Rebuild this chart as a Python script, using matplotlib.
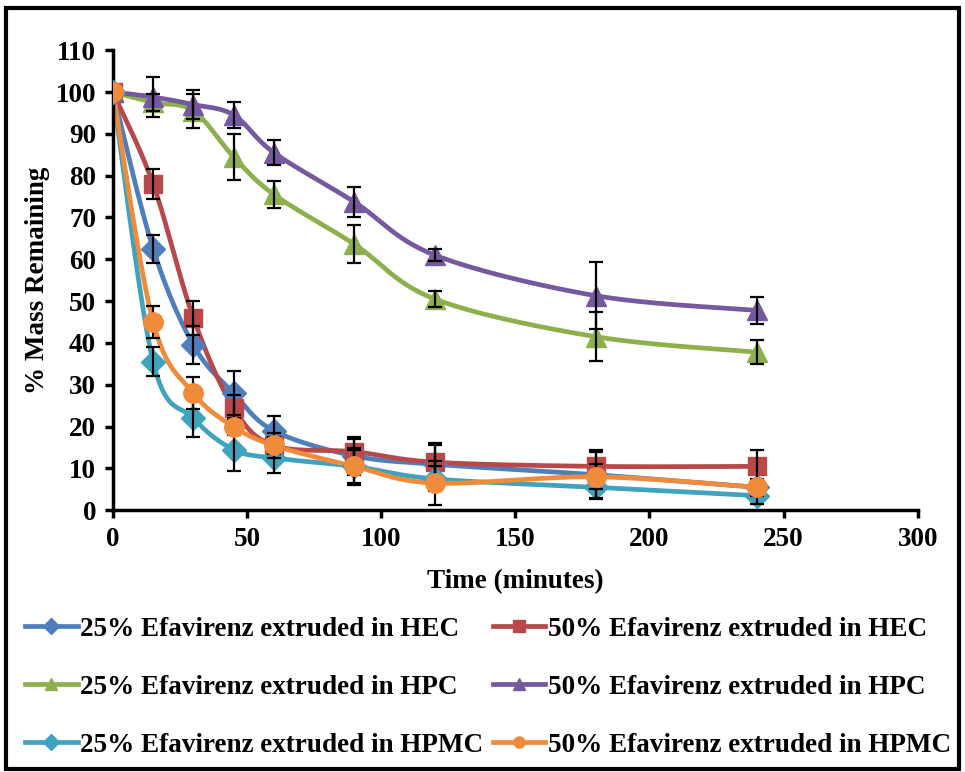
import numpy as np
import matplotlib.pyplot as plt
from matplotlib.patches import Rectangle

plt.rcParams['font.family'] = ['Liberation Serif', 'DejaVu Serif']
plt.rcParams['font.weight'] = 'bold'

# sampling times (minutes)
time = [0, 15, 30, 45, 60, 90, 120, 180, 240]

hec_25 = [100, 62.5, 39.5, 28, 19, 13, 11, 8.5, 5.5]
hec_25_err = [0, 3.3, 4.6, 5.3, 3.6, 4.5, 4.5, 5.5, 2]
hec_50 = [100, 78, 46, 24.5, 15.5, 14, 11.5, 10.5, 10.5]
hec_50_err = [0, 3.5, 4, 3, 3, 3, 4.5, 4, 4]
hpc_25 = [100, 97.5, 95.5, 84.5, 75.5, 63.6, 50.5, 41.5, 37.8]
hpc_25_err = [0, 2, 4, 5.5, 3.3, 4.5, 2, 5.8, 2.8]
hpc_50 = [100, 98.8, 97, 94.5, 85.5, 73.7, 61, 51.3, 47.8]
hpc_50_err = [0, 4.7, 3.5, 3, 3, 3.6, 1.5, 8, 3.2]
hpmc_25 = [100, 35.5, 22, 14.5, 12.5, 10.5, 7.5, 5.5, 3.5]
hpmc_25_err = [0, 3.5, 4.5, 5, 3.5, 4.5, 3, 2.7, 2]
hpmc_50 = [100, 45, 28, 20, 15.5, 10.5, 6.5, 8, 5.5]
hpmc_50_err = [0, 3.9, 3.9, 2, 2, 4, 5.2, 3, 1.5]

labels = ['25% Efavirenz extruded in HEC', '50% Efavirenz extruded in HEC',
          '25% Efavirenz extruded in HPC', '50% Efavirenz extruded in HPC',
          '25% Efavirenz extruded in HPMC', '50% Efavirenz extruded in HPMC']
colors = ['#4F7EBD', '#B9484A', '#8DB04C', '#7558A0', '#3FA3BE', '#F08B3B']
markers = ['D', 's', '^', '^', 'D', 'o']
sizes = [12.5, 13.5, 15, 15, 12.5, 14]


def smooth(x, y, n=30):
    # Catmull-Rom style curve through the points, like spreadsheet smoothed lines
    x = np.asarray(x, float)
    y = np.asarray(y, float)
    px = np.concatenate([[x[0]], x, [x[-1]]])
    py = np.concatenate([[y[0]], y, [y[-1]]])
    xs, ys = [], []
    t = np.linspace(0, 1, n)
    for i in range(1, len(px) - 2):
        p0, p1, p2, p3 = [np.array([px[j], py[j]]) for j in range(i - 1, i + 3)]
        c1 = p1 + (p2 - p0) / 6
        c2 = p2 - (p3 - p1) / 6
        pts = ((1 - t) ** 3)[:, None] * p1 + (3 * (1 - t) ** 2 * t)[:, None] * c1 \
            + (3 * (1 - t) * t ** 2)[:, None] * c2 + (t ** 3)[:, None] * p2
        xs.extend(pts[:, 0])
        ys.extend(pts[:, 1])
    return xs, ys


series = [(hec_25, hec_25_err), (hec_50, hec_50_err), (hpc_25, hpc_25_err),
          (hpc_50, hpc_50_err), (hpmc_25, hpmc_25_err), (hpmc_50, hpmc_50_err)]

fig = plt.figure(figsize=(9.65, 7.72), dpi=100)
ax = fig.add_axes([0.117, 0.339, 0.834, 0.596])

handles = []
for k, (vals, err) in enumerate(series):
    sx, sy = smooth(time, vals)
    ax.plot(sx, sy, color=colors[k], lw=3.4, zorder=2 + k * 0.1, solid_capstyle='round')
    ax.errorbar(time, vals, yerr=err, fmt='none', ecolor='black', elinewidth=1.6,
                capsize=5, capthick=1.6, zorder=3)
    ax.plot(time, vals, linestyle='none', marker=markers[k], ms=sizes[k],
            color=colors[k], mec=colors[k], zorder=2.5 + k * 0.1)
    h, = ax.plot([], [], color=colors[k], lw=3.4, marker=markers[k], ms=8,
                 mec=colors[k], label=labels[k])
    handles.append(h)

ax.set_xlim(0, 300)
ax.set_ylim(0, 110)
ax.set_xticks(range(0, 301, 50))
ax.set_yticks(range(0, 111, 10))
for side in ['top', 'right']:
    ax.spines[side].set_visible(False)
for side in ['left', 'bottom']:
    ax.spines[side].set_linewidth(2.5)
ax.tick_params(width=2.5, length=6, labelsize=19.5, direction='out', pad=6)
for lab in ax.get_xticklabels() + ax.get_yticklabels():
    lab.set_fontweight('bold')

ax.set_xlabel('Time (minutes)', fontsize=19.5, fontweight='bold', labelpad=12)
ax.set_ylabel('% Mass Remaining', fontsize=19.5, fontweight='bold', labelpad=4)

# legend reads row by row: HEC, HPC, HPMC pairs
order = [0, 2, 4, 1, 3, 5]
fig.legend(handles=[handles[i] for i in order], loc='center left',
           bbox_to_anchor=(0.026, 0.110), ncol=2, frameon=False, borderpad=0,
           borderaxespad=0, handlelength=1.95, handletextpad=0.08,
           columnspacing=0.35, labelspacing=1.22,
           prop={'weight': 'bold', 'size': 19.5})

fig.patches.append(Rectangle((0.006, 0.004), 0.988, 0.986, transform=fig.transFigure,
                             fill=False, edgecolor='black', lw=3))

fig.savefig('out.png', dpi=100)
